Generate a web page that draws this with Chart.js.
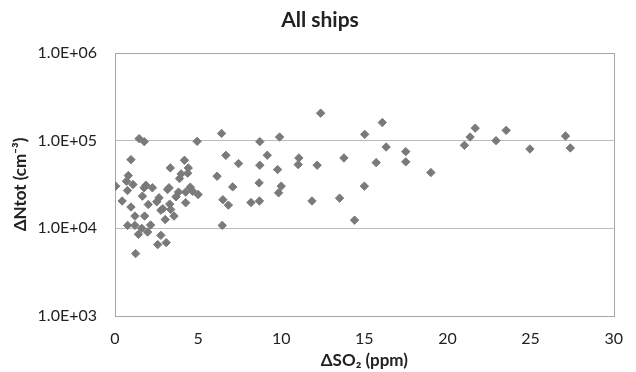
<!DOCTYPE html>
<html>
<head>
<meta charset="utf-8">
<script src="https://cdn.jsdelivr.net/npm/chart.js@4/dist/chart.umd.min.js"></script>
<style>
html,body{margin:0;padding:0;background:#fff;}
#wrap{width:636px;height:372px;position:relative;}
</style>
</head>
<body>
<div id="wrap"><canvas id="c" width="636" height="372"></canvas></div>
<script>
const chartTitle = "All ships";
const xTitle = "ΔSO\u2082 (ppm)";
const yTitle = "ΔNtot (cm\u207B\u00B3)";
const xTickValues = [0, 5, 10, 15, 20, 25, 30];
const yTickValues = [1000, 10000, 100000, 1000000];
const yTickLabels = ["1.0E+03", "1.0E+04", "1.0E+05", "1.0E+06"];

// Delta SO2 (ppm)
const so2 = [
  0.04, 0.43, 0.69, 0.80, 0.75, 0.96, 1.08, 0.96, 0.76, 1.20,
  1.20, 1.41, 1.24, 1.45, 1.76, 1.61, 1.78, 1.96, 2.14, 1.65,
  1.75, 1.86, 2.00, 2.25, 2.51, 2.65, 2.76, 2.88, 2.76, 2.57,
  3.08, 3.02, 3.29, 3.35, 3.55, 3.16, 3.25, 3.33, 3.67, 3.82,
  3.88, 3.98, 4.18, 4.41, 4.37, 4.25, 4.25, 4.53, 4.67, 5.00,
  4.94, 6.41, 6.67, 6.14, 7.08, 7.43, 6.49, 6.82, 6.45, 8.18,
  8.69, 8.67, 8.71, 8.71, 9.16, 9.90, 9.78, 10.00, 9.84, 11.06,
  11.02, 12.37, 12.16, 11.85, 13.51, 13.77, 14.41, 15.02, 15.00, 16.08,
  15.71, 16.31, 17.49, 17.49, 19.00, 21.02, 21.36, 21.67, 22.92, 23.53,
  24.96, 27.10, 27.39
];
// Delta Ntot (cm^-3)
const ntot = [
  30300, 20500, 34500, 40000, 27000, 60800, 31600, 17500, 10800, 13800,
  10800, 8550, 5150, 105500, 97500, 10000, 13800, 9080, 10900, 23300,
  29000, 31000, 18700, 29000, 20100, 22300, 16100, 16700, 8320, 6520,
  6870, 12600, 18900, 16400, 13800, 27700, 29000, 48900, 22900, 25900,
  37000, 41800, 59800, 48900, 42600, 25900, 19600, 29500, 26500, 24300,
  98200, 121000, 68000, 39300, 29700, 54800, 21200, 18400, 10800, 19700,
  20500, 33000, 52500, 97500, 68200, 110000, 46800, 30300, 25400, 63500,
  53300, 206000, 52500, 20500, 22100, 63500, 12400, 118000, 30300, 161000,
  56200, 84700, 75000, 57300, 43300, 88500, 110000, 139000, 100000, 131000,
  80400, 113000, 82600
];

const points = so2.map((x, i) => ({x: x, y: ntot[i]}));

const FONT = "Lato, 'Open Sans', sans-serif";
const TEXT = '#222222';

const framePlugin = {
  id: 'frame',
  beforeDatasetsDraw(chart) {
    const {ctx, chartArea: a} = chart;
    ctx.save();
    ctx.strokeStyle = '#a6a6a6';
    ctx.lineWidth = 1;
    ctx.strokeRect(Math.round(a.left) + 0.5, Math.round(a.top) + 0.5,
      Math.round(a.right - a.left), Math.round(a.bottom - a.top));
    ctx.restore();
  }
};

new Chart(document.getElementById('c'), {
  type: 'scatter',
  data: {
    datasets: [{
      data: points,
      pointStyle: 'rectRot',
      pointRadius: 4.2,
      pointHoverRadius: 4.2,
      backgroundColor: '#7a7a7a',
      borderColor: '#7a7a7a',
      borderWidth: 1
    }]
  },
  options: {
    responsive: false,
    animation: false,
    devicePixelRatio: 1,
    layout: {padding: {left: 15, right: 11, top: 0, bottom: 0}},
    plugins: {
      legend: {display: false},
      tooltip: {enabled: false},
      title: {
        display: true,
        text: chartTitle,
        color: TEXT,
        font: {family: FONT, size: 21, weight: 'bold'},
        padding: {top: 8, bottom: 19.8}
      }
    },
    scales: {
      x: {
        type: 'linear',
        min: 0,
        max: 30,
        afterBuildTicks: s => { s.ticks = xTickValues.map(v => ({value: v})); },
        afterFit: s => { s.height = 56; },
        grid: {display: false, drawTicks: false},
        border: {display: false},
        ticks: {
          color: TEXT,
          padding: 13,
          maxRotation: 0,
          font: {family: FONT, size: 16},
          callback: v => String(v)
        },
        title: {
          display: true,
          text: xTitle,
          color: TEXT,
          font: {family: FONT, size: 17, weight: 'bold'},
          padding: {top: 0, bottom: 1}
        }
      },
      y: {
        type: 'logarithmic',
        min: 1000,
        max: 1000000,
        afterBuildTicks: s => { s.ticks = yTickValues.map(v => ({value: v})); },
        afterFit: s => { s.width = 100; },
        grid: {color: '#bdbdbd', lineWidth: 1, drawTicks: false},
        border: {display: false},
        ticks: {
          color: TEXT,
          padding: 18,
          font: {family: FONT, size: 16},
          callback: v => {
            const i = yTickValues.indexOf(v);
            return i >= 0 ? yTickLabels[i] : '';
          }
        },
        title: {
          display: true,
          text: yTitle,
          color: TEXT,
          font: {family: FONT, size: 17, weight: 'bold'},
          padding: {top: -5, bottom: 0}
        }
      }
    }
  },
  plugins: [framePlugin]
});
</script>
</body>
</html>
